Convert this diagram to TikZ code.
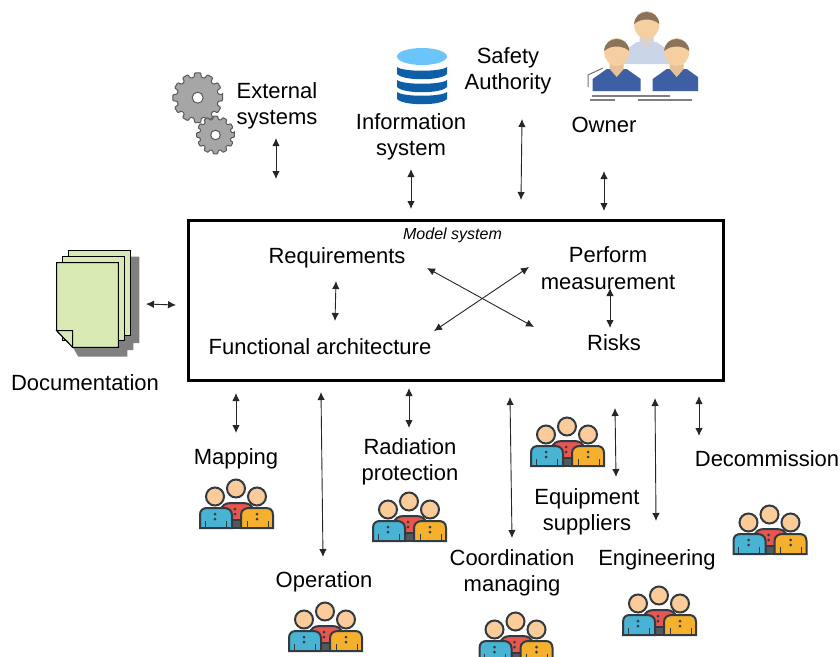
\documentclass[tikz,border=0pt]{standalone}
\usepackage{fontspec}
\setmainfont{Liberation Sans}
\usetikzlibrary{arrows.meta}
\definecolor{skin}{HTML}{FBCB9A}
\definecolor{outl}{HTML}{333B42}
\definecolor{pblue}{HTML}{49B3D3}
\definecolor{pred}{HTML}{E8564F}
\definecolor{pyel}{HTML}{F5B12E}
\definecolor{dbdark}{HTML}{0F5FA8}
\definecolor{dblight}{HTML}{6CC5FA}
\definecolor{docg}{HTML}{D9E9B4}
\definecolor{hair}{HTML}{8A7358}
\definecolor{skin2}{HTML}{F6CFA0}
\definecolor{suit}{HTML}{3F5FA5}
\definecolor{suitl}{HTML}{CBD5EA}
\newcommand{\gearpath}[3]{% centre x,y ; outer radius
  \path[gearst,rounded corners=0.8pt] ({#1+#3*cos(-7)},{#2+#3*sin(-7)})
   \foreach \k in {0,...,11}{
     -- ({#1+#3*cos(\k*30-7)},{#2+#3*sin(\k*30-7)})
     -- ({#1+#3*cos(\k*30+7)},{#2+#3*sin(\k*30+7)})
     -- ({#1+0.83*#3*cos(\k*30+10)},{#2+0.83*#3*sin(\k*30+10)})
     -- ({#1+0.83*#3*cos(\k*30+20)},{#2+0.83*#3*sin(\k*30+20)})
   } -- cycle;
}
\tikzset{
  x=1pt,y=-1pt,
  lab/.style={font=\fontsize{22}{26.3}\selectfont,align=center,inner sep=0pt,text=black},
  conn/.style={draw=black!85,line width=0.9pt,{Latex[length=8pt,width=7.5pt]}-{Latex[length=8pt,width=7.5pt]}},
  gearst/.style={fill=black!35,draw=black!65,line width=1pt},
  pagest/.style={fill=docg,draw=black,line width=1pt},
  ic/.style={draw=outl,line width=2pt},
  pics/people/.style={code={
    \path[ic,fill=pred] (-15,41) -- (-15,32) .. controls (-15,26) and (-10,24) .. (-5,24) -- (7,24) .. controls (12,24) and (17,26) .. (17,32) -- (17,41) -- cycle;
    \path[ic,fill=outl!85] (-4,41) rectangle (5,49);
    \path[ic,fill=skin] (0,9.5) circle (9);
    \path[ic,fill=skin] (-21,17.5) circle (9);
    \path[ic,fill=skin] (21,17.5) circle (9);
    \path[ic,fill=pblue] (-36,49) -- (-36,36) .. controls (-36,31) and (-33,29) .. (-29,29) -- (-12,29) .. controls (-8,29) and (-4,31) .. (-4,36) -- (-4,49) -- cycle;
    \path[ic,fill=pyel] (5,49) -- (5,36) .. controls (5,31) and (9,29) .. (13,29) -- (30,29) .. controls (34,29) and (37,31) .. (37,36) -- (37,49) -- cycle;
    \fill[outl] (-1,30) circle (1.5) (-1,35) circle (1.5);
    \fill[outl] (-21,35) circle (1.5) (-21,40) circle (1.5);
    \fill[outl] (21,35) circle (1.5) (21,40) circle (1.5);
    \draw[outl,line width=1pt] (-31,42) -- (-31,49) (-10,42) -- (-10,49) (11,42) -- (11,49) (32,42) -- (32,49);
  }},
  pics/suitman/.style n args={2}{code={
    \path[fill=#1] (-24,39) -- (-24,27) -- (-10,17) -- (10,17) -- (24,27) -- (24,39) -- cycle;
    \path[fill=#2] (-7,6) -- (7,6) -- (7,17) -- (0,25) -- (-7,17) -- cycle;
    \path[fill=skin2] (0,0) ellipse (12.5 and 14);
    \path[fill=hair] (-12.5,-1) .. controls (-12,-17) and (12,-17) .. (12.5,-1) .. controls (6,-7) and (-6,-7) .. (-12.5,-1) -- cycle;
  }}
}
\begin{document}
\begin{tikzpicture}
\clip (0,0) rectangle (840,656);
\fill[white] (0,0) rectangle (840,656);
% main box
\node[draw=black,line width=2.4pt,minimum width=535pt,minimum height=160pt,inner sep=0pt,outer sep=0pt,anchor=north west] (box) at (188.5,220.5) {};
% gears
\gearpath{197.7}{97.7}{25}
\fill[white,draw=black!65,line width=1pt] (197.7,97.7) circle (5.5);
\gearpath{215.5}{135}{19}
\fill[white,draw=black!65,line width=1pt] (215.5,135) circle (4.8);
% database
\foreach \y in {67,80,92}{
  \fill[dbdark] (397,\y) .. controls (403,{\y+5}) and (441,{\y+5}) .. (447,\y) -- (447,{\y+7}) .. controls (441,{\y+14}) and (403,{\y+14}) .. (397,{\y+7}) -- cycle;
}
\fill[dblight] (422,56.5) ellipse (25 and 8.5);
% owner icon
\begin{scope}
\clip (585,0) rectangle (698,110);
\pic at (646.7,25) {suitman={suitl}{suitl!70!skin2}};
\pic at (616.7,52) {suitman={suit}{skin2!85!hair}};
\pic at (676.7,52) {suitman={suit}{skin2!85!hair}};
\draw[black!55,line width=1pt] (603,68) -- (588,75) -- (588,87);
\draw[black!50,line width=1.2pt] (592,96) -- (670,96) (590,100) -- (615,100) (638,100) -- (692,100);
\end{scope}
% documents
\fill[black!50] (130,256.7) -- (139.3,256.7) -- (139.3,343) -- (133.3,343) -- (133.3,350) -- (127.3,350) -- (127.3,356.7) -- (78.3,356.7) -- (72.7,347) -- cycle;
\path[pagest] (68.3,250) rectangle (130,335);
\path[pagest] (62.3,256) rectangle (124.3,340.7);
\path[pagest] (56.7,262.7) -- (118.3,262.7) -- (118.3,347.3) -- (72.7,347.3) -- (56.7,330.7) -- cycle;
\path[pagest] (56.7,330.7) -- (72.7,330.7) -- (72.7,347.3) -- cycle;
% people icons
\pic at (236,479) {people};
\pic at (409,492) {people};
\pic at (567,417) {people};
\pic at (325,602) {people};
\pic at (515.5,612) {people};
\pic at (659,586) {people};
\pic at (769.5,505) {people};
% labels
\node[lab] (ext) at (277,106) {External\\systems};
\node[lab] (info) at (411,137) {Information\\system};
\node[lab] (safety) at (508,71) {Safety\\Authority};
\node[lab] (owner) at (604,125) {Owner};
\node[font=\fontsize{16}{18}\selectfont\itshape,inner sep=0pt] (model) at (452.5,235) {Model system};
\node[lab] (req) at (337,258) {Requirements};
\node[lab] (perf) at (608,268) {Perform\\measurement};
\node[lab] (func) at (320,346.5) {Functional architecture};
\node[lab] (risks) at (614,343) {Risks};
\node[lab] (doc) at (85,382.5) {Documentation};
\node[lab] (map) at (236,458.5) {Mapping};
\node[lab] (oper) at (324,581.5) {Operation};
\node[lab] (rad) at (410,461.5) {Radiation\\protection};
\node[lab] (equip) at (587,512) {Equipment\\suppliers};
\node[lab] (coord) at (512,573) {Coordination\\managing};
\node[lab] (eng) at (657,559.5) {Engineering};
\node[lab] (dec) at (767,458.5) {Decommission};
% connector ends
\coordinate (a1) at (276,138); \coordinate (b1) at (276,179);
\coordinate (a2) at (411,169); \coordinate (b2) at (411,209);
\coordinate (a3) at (522,119); \coordinate (b3) at (521,200);
\coordinate (a4) at (604,171); \coordinate (b4) at (604,211);
\coordinate (a5) at (146,304); \coordinate (b5) at (176,305);
\coordinate (a6) at (336,281); \coordinate (b6) at (335,321);
\coordinate (a7) at (427,268); \coordinate (b7) at (534,327);
\coordinate (a8) at (434,331); \coordinate (b8) at (529,267);
\coordinate (a9) at (610,288); \coordinate (b9) at (610,328);
\coordinate (a10) at (236,393); \coordinate (b10) at (236,433);
\coordinate (a11) at (321,392); \coordinate (b11) at (323,557);
\coordinate (a12) at (409,388); \coordinate (b12) at (409,428);
\coordinate (a13) at (510,397); \coordinate (b13) at (512,538);
\coordinate (a14) at (615,408); \coordinate (b14) at (616,477);
\coordinate (a15) at (655,398); \coordinate (b15) at (656,521);
\coordinate (a16) at (699,396); \coordinate (b16) at (699,436);
\foreach \i in {1,...,16}{\draw[conn] (a\i) -- (b\i);}
\end{tikzpicture}
\end{document}
